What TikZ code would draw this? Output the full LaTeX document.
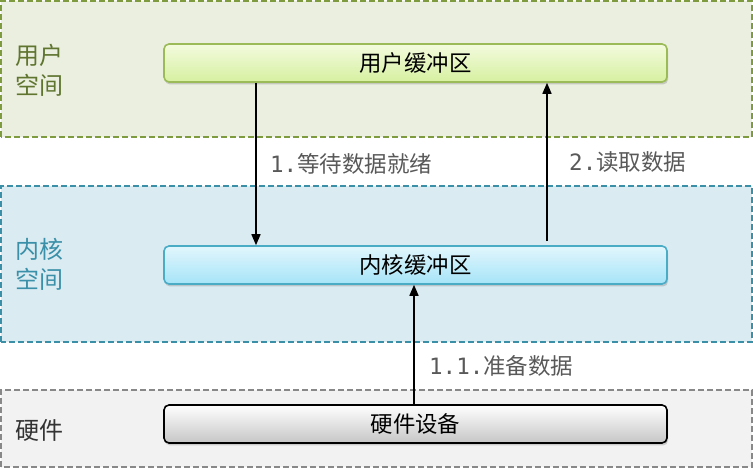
\documentclass[tikz,border=0pt]{standalone}
\usepackage{fontspec}
\setmainfont{Noto Sans CJK SC}
\newfontfamily\monof{DejaVu Sans Mono}
\usetikzlibrary{arrows.meta,shadows}
\definecolor{ufill}{HTML}{EBEFDF}
\definecolor{uborder}{HTML}{7F9B3F}
\definecolor{utext}{HTML}{5F7530}
\definecolor{kfill}{HTML}{DAEBF2}
\definecolor{kborder}{HTML}{3B8FA6}
\definecolor{ktext}{HTML}{3A90A8}
\definecolor{hfill}{HTML}{F2F2F2}
\definecolor{hborder}{HTML}{888888}
\definecolor{htext}{HTML}{333333}
\definecolor{lbl}{HTML}{595959}
\tikzset{
  region/.style={line width=1.5pt, dash pattern=on 6pt off 3pt},
  buf/.style={rounded corners=5pt, minimum width=503pt, minimum height=38pt,
    inner sep=0pt, font=\fontsize{22.4}{26}\selectfont, line width=1.6pt,
    drop shadow={opacity=0.35, shadow xshift=1pt, shadow yshift=-2.5pt}},
  ubuf/.style={buf, draw={rgb,255:red,155;green,187;blue,89}, top color={rgb,255:red,243;green,251;blue,222}, bottom color={rgb,255:red,214;green,240;blue,160}},
  kbuf/.style={buf, draw={rgb,255:red,75;green,172;blue,198}, top color={rgb,255:red,226;green,246;blue,253}, bottom color={rgb,255:red,166;green,228;blue,248}},
  hbuf/.style={buf, draw=black, top color=white, bottom color={rgb,255:red,198;green,198;blue,198}},
  arr/.style={line width=1.6pt, -{Triangle[length=11pt,width=9pt]}},
  steplbl/.style={anchor=west, text=lbl, font=\fontsize{22.5}{26}\selectfont, inner sep=0pt},
  reglbl/.style={anchor=west, align=left, font=\fontsize{24}{30}\selectfont, inner sep=0pt},
}
\begin{document}
\begin{tikzpicture}[x=1pt,y=1pt]
\useasboundingbox (0,0) rectangle (753,468);
\path[region, draw=uborder, fill=ufill] (1,331) rectangle (752,467);
\path[region, draw=kborder, fill=kfill] (1,126) rectangle (752,282);
\path[region, draw=hborder, fill=hfill] (1,1) rectangle (752,78);

\node[reglbl, text=utext] (ul) at (15,398) {用户\\空间};
\node[reglbl, text=ktext] (kl) at (15,204) {内核\\空间};
\node[reglbl, text=htext] (hl) at (15,38) {硬件};

\node[ubuf] (ub) at (415.5,405) {用户缓冲区};
\node[kbuf] (kb) at (415.5,203) {内核缓冲区};
\node[hbuf] (hb) at (415.5,44) {硬件设备};

\coordinate (a1) at (256,0);
\coordinate (a2) at (547,0);
\coordinate (a3) at (414,0);
\draw[arr] (ub.south -| a1) -- (kb.north -| a1);
\draw[arr] ([yshift=4pt]kb.north -| a2) -- (ub.south -| a2);
\draw[arr] (hb.north -| a3) -- (kb.south -| a3);

\node[steplbl] (l1) at (270,304) {{\monof 1.}等待数据就绪};
\node[steplbl] (l2) at (569,306) {{\monof 2.}读取数据};
\node[steplbl] (l3) at (429,102) {{\monof 1.1.}准备数据};
\end{tikzpicture}
\end{document}
